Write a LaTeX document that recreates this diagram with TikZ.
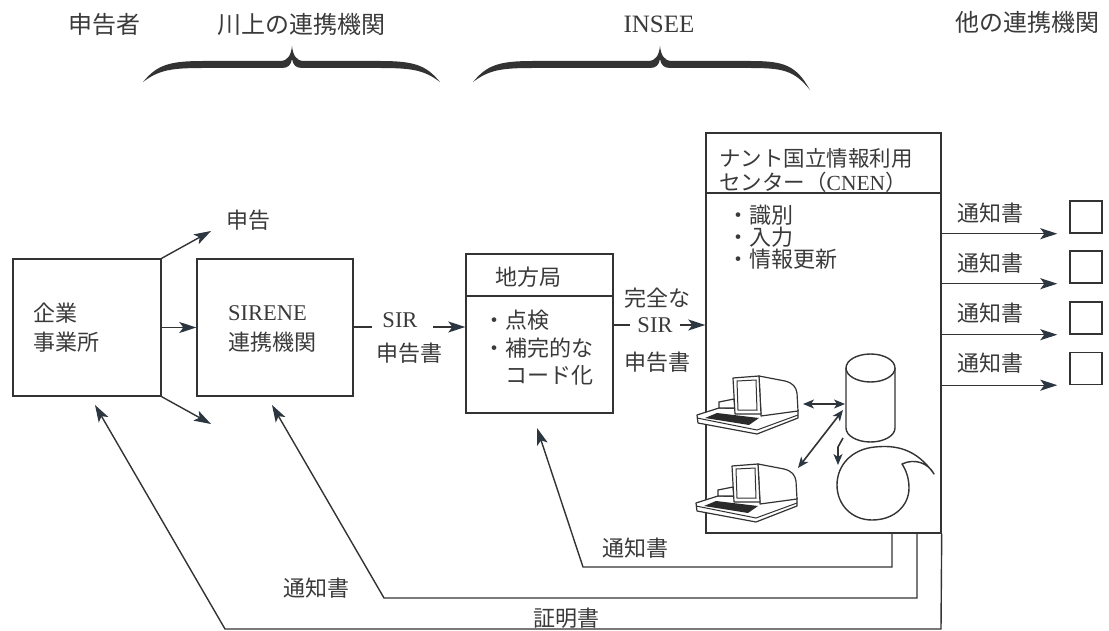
\documentclass[tikz,border=0pt]{standalone}
\usepackage{fontspec}
\setmainfont{Liberation Serif}
\newfontfamily\jp{Noto Sans CJK JP}
\usetikzlibrary{arrows.meta}

\definecolor{ink}{HTML}{333333}
\definecolor{txt}{HTML}{3A3A3A}
\definecolor{keys}{HTML}{2A2A2A}
\definecolor{tip}{HTML}{2B3640}

% thick curly brace: left x, peak x, right x, left end y, right end y
\newcommand{\curlybrace}[5]{%
  \fill[ink] (#1,#4) .. controls ({#1+14},65) and ({#1+26},61) .. ({#1+60},61)
    -- ({#2-12},61) .. controls ({#2-4},61) and ({#2-1},55) .. (#2,46)
    .. controls ({#2+1},55) and ({#2+4},61) .. ({#2+12},61)
    -- ({#3-60},61) .. controls ({#3-26},61) and ({#3-14},65) .. (#3,#5)
    .. controls ({#3-16},70) and ({#3-28},68) .. ({#3-60},68)
    -- ({#2+10},68) .. controls ({#2+4},68) and ({#2+1},65) .. (#2,59)
    .. controls ({#2-1},65) and ({#2-4},68) .. ({#2-10},68)
    -- ({#1+60},68) .. controls ({#1+28},68) and ({#1+16},70) .. (#1,#4) -- cycle;}

\tikzset{
  terminal/.pic={
    % keyboard slab
    \draw[ink, line width=1.2pt, fill=white, line join=round]
      (0,38) -- (22,31) -- (101,33) -- (101,41) -- (60,57) -- (1,46) -- cycle;
    \draw[ink, line width=1pt] (0,41) -- (60,53) -- (101,38);
    \fill[keys] (8,41) -- (20,36) -- (62,41) -- (52,48) -- cycle;
    % CRT housing
    \draw[ink, line width=1.2pt, fill=white, line join=round]
      (62,-1) -- (88,4) .. controls (96,6) and (99,10) .. (100,16) -- (101,34) -- (64,39) -- cycle;
    % small shelf left of the screen
    \draw[ink, line width=1.2pt, fill=white] (22,31) -- (22,25) -- (37,22) -- (38,31) -- cycle;
    % screen bezel and glass
    \draw[ink, line width=1.2pt, fill=white, line join=round]
      (36,1) -- (62,-1) -- (64,37) -- (38,37) -- cycle;
    \draw[ink, line width=1pt] (40,4) -- (59,3) -- (60,33) -- (41,33) -- cycle;
  }
}

\begin{document}
\begin{tikzpicture}[x=1pt,y=-1pt,
  box/.style={draw=ink, line width=1.4pt, inner sep=0pt},
  ln/.style={draw=ink, line width=1.4pt},
  arr/.style={ln, -{Stealth[length=17pt,width=11pt,inset=4pt,color=tip]}},
  darr/.style={draw=ink, line width=1.6pt, {Stealth[length=11pt,width=9pt,inset=3pt,color=tip]}-{Stealth[length=11pt,width=9pt,inset=3pt,color=tip]}},
  sarr/.style={draw=ink, line width=1.6pt, -{Stealth[length=11pt,width=9pt,inset=3pt,color=tip]}},
  jl/.style={text=txt, inner sep=0pt, font=\jp\fontsize{22}{26}\selectfont},
  jt/.style={text=txt, inner sep=0pt, font=\jp\fontsize{24}{28}\selectfont},
  ll/.style={text=txt, inner sep=0pt, font=\fontsize{22.5}{26}\selectfont},
]
\useasboundingbox (0,0) rectangle (1109,631);

% column headings
\node[jt] (hDecl) at (104,24) {申告者};
\node[jt] (hUp) at (301,24) {川上の連携機関};
\node[text=txt, inner sep=0pt, font=\fontsize{25}{28}\selectfont] (hInsee) at (659,24) {INSEE};
\node[jt] (hOther) at (1027,22) {他の連携機関};
\curlybrace{143}{292}{440}{82}{82}
\curlybrace{473}{660}{810}{82}{90}

% main boxes
\node[box, minimum width=148pt, minimum height=137pt] (firm) at (87,327.5) {};
\node[box, minimum width=156pt, minimum height=137pt] (sirene) at (275,327.5) {};
\node[box, minimum width=147pt, minimum height=159pt] (lr) at (539.5,333.5) {};
\node[box, minimum width=235pt, minimum height=400pt] (cnen) at (823.5,333) {};

% recipients
\node[box, minimum width=32pt, minimum height=32pt] (o1) at (1086,217) {};
\node[box, minimum width=32pt, minimum height=32pt] (o2) at (1086,267) {};
\node[box, minimum width=32pt, minimum height=32pt] (o3) at (1086,318) {};
\node[box, minimum width=32pt, minimum height=32pt] (o4) at (1086,368.5) {};

% texts in boxes
\node[jl, anchor=west] (firmA) at (33,313) {企業};
\node[jl, anchor=west] (firmB) at (33,342) {事業所};
\node[ll, anchor=west] (sirA) at (228,313) {SIRENE};
\node[jl, anchor=west] (sirB) at (228,342) {連携機関};

\draw[box] (lr.west |- 0,296) -- (lr.east |- 0,296);
\node[jl] (lrT) at (528,277) {地方局};
\node[jl, anchor=west] (lr1) at (483,320) {・点検};
\node[jl, anchor=west] (lr2) at (483,348) {・補完的な};
\node[jl, anchor=west] (lr3) at (505,375) {コード化};

\draw[box] (cnen.west |- 0,193) -- (cnen.east |- 0,193);
\node[jl, anchor=west, font=\jp\fontsize{21.5}{24}\selectfont] (cnT1) at (719,158) {ナント国立情報利用};
\node[jl, anchor=west, font=\jp\fontsize{21.5}{24}\selectfont] (cnT2) at (719,182) {センター（\fontspec{Liberation Serif}CNEN\jp）};
\node[jl, anchor=west] (cn1) at (727,215) {・識別};
\node[jl, anchor=west] (cn2) at (727,237) {・入力};
\node[jl, anchor=west] (cn3) at (727,259) {・情報更新};

% declarations leaving the firm
\coordinate (declUp) at (211,231);
\coordinate (declDn) at (211,424);
\draw[arr] (firm.north east) -- (declUp);
\node[jl] (declLbl) at (248,220) {申告};
\draw[arr] (firm.east) -- (sirene.west);
\draw[arr] (firm.south east) -- (declDn);

% SIR declaration to the regional office
\coordinate (s1a) at (372,327);
\coordinate (s1b) at (433,327);
\draw[ln] (sirene.east |- s1a) -- (s1a);
\node[ll] (sir1) at (400,320) {SIR};
\node[jl] (sir1b) at (409,353) {申告書};
\draw[arr] (s1b) -- (lr.west |- s1b);

% complete SIR declaration to CNEN
\coordinate (s2a) at (630,325);
\coordinate (s2b) at (680,325);
\draw[ln] (lr.east |- s2a) -- (s2a);
\node[jl] (sir2a) at (657,298) {完全な};
\node[ll] (sir2) at (655,325) {SIR};
\node[jl] (sir2b) at (657,362) {申告書};
\draw[arr] (s2b) -- (cnen.west |- s2b);

% notices to other agencies
\foreach \o in {o1,o2,o3,o4}{
  \draw[arr] (cnen.east |- \o.south) -- ([xshift=-12pt]\o.south west);
}
\node[jl] (n1) at (990,213) {通知書};
\node[jl] (n2) at (990,263) {通知書};
\node[jl] (n3) at (990,313) {通知書};
\node[jl] (n4) at (990,363) {通知書};

% return flows at the bottom
\coordinate (rLr) at (537,428);
\coordinate (rSir) at (272,405);
\coordinate (rFirm) at (95,405);
\draw[arr] (892,0 |- cnen.south) -- (892,567) -- (583,567) -- (rLr);
\draw[arr] (917,0 |- cnen.south) -- (917,598) -- (384,598) -- (rSir);
\draw[arr] (cnen.south east) -- (941,629) -- (225,629) -- (rFirm);
\node[jl] (b1) at (635,548) {通知書};
\node[jl] (b2) at (316,588) {通知書};
\node[jl] (b3) at (566,618) {証明書};

% equipment inside CNEN
\pic at (697,377) {terminal};
\pic at (696,465) {terminal};
\draw[ink, line width=1.4pt, fill=white] (846,368) -- (846,428)
   arc[start angle=180, end angle=0, x radius=24.5, y radius=14] -- (895,368);
\draw[ink, line width=1.4pt, fill=white] (870.5,368) ellipse [x radius=24.5, y radius=14];
\draw[ink, line width=1.4pt, fill=white, line join=round]
  (934,474) .. controls (916,448) and (895,445) .. (875,447)
  .. controls (852,449) and (837,465) .. (837,485)
  .. controls (837,505) and (852,520) .. (872,520)
  .. controls (895,520) and (909,505) .. (909,488)
  .. controls (909,478) and (906,470) .. (902,464)
  .. controls (915,458) and (928,463) .. (934,474) -- cycle;
\draw[darr] (803,404) -- (845,404);
\draw[darr] (843,410) -- (798,468);
\draw[sarr] (843,438) -- (838,447) -- (838,465);
\end{tikzpicture}
\end{document}
